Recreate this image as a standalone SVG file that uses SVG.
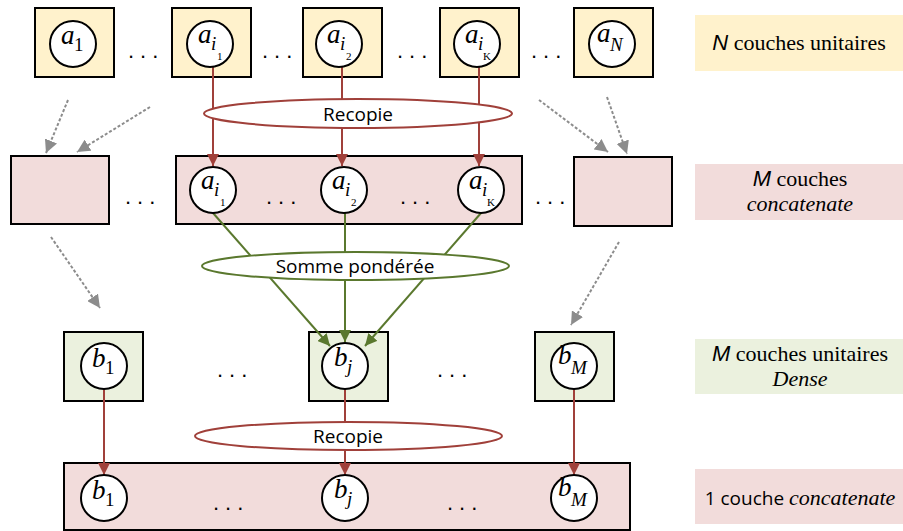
<svg xmlns="http://www.w3.org/2000/svg" width="903" height="531" viewBox="0 0 903 531">
<style>
.box{stroke:#000;stroke-width:2}
.y{fill:#fff2cc}.p{fill:#f2dcdb}.g{fill:#ebf1de}
.c{fill:#fff;stroke:#000;stroke-width:2}
.dots{font-family:'Liberation Sans',sans-serif;font-size:22px;fill:#000;letter-spacing:6px}
.red{stroke:#a0403a;stroke-width:2;fill:none}
.grn{stroke:#5a782e;stroke-width:2;fill:none}
.gry{stroke:#8c8c8c;stroke-width:2;fill:none;stroke-dasharray:3 2}
.lbl{font-family:'Open Sans',sans-serif;font-size:19px;fill:#000;text-anchor:middle}
</style>
<defs>
<marker id="ar" viewBox="0 0 10 10" refX="10" refY="5" markerWidth="12" markerHeight="12" markerUnits="userSpaceOnUse" orient="auto"><path d="M0,0 L10,5 L0,10 z" fill="#a0403a"/></marker>
<marker id="ag" viewBox="0 0 10 10" refX="10" refY="5" markerWidth="12" markerHeight="12" markerUnits="userSpaceOnUse" orient="auto"><path d="M0,0 L10,5 L0,10 z" fill="#5a782e"/></marker>
<marker id="ay" viewBox="0 0 10 10" refX="10" refY="5" markerWidth="13" markerHeight="13" markerUnits="userSpaceOnUse" orient="auto"><path d="M0,0 L10,5 L0,10 z" fill="#8c8c8c"/></marker>
</defs>

<!-- right legend -->
<g id="legend-n" font-family="Liberation Serif, serif" font-size="22" text-anchor="middle">
<rect x="695" y="15" width="208" height="56" class="y"/>
<text x="799" y="50"><tspan font-family="Liberation Sans, sans-serif" font-style="italic">N</tspan> couches unitaires</text>
</g>
<g id="legend-m" font-family="Liberation Serif, serif" font-size="22" text-anchor="middle">
<rect x="695" y="164" width="208" height="56" class="p"/>
<text x="800" y="186"><tspan font-family="Liberation Sans, sans-serif" font-style="italic">M</tspan> couches</text>
<text x="800" y="211" font-style="italic">concatenate</text>
</g>
<g id="legend-dense" font-family="Liberation Serif, serif" font-size="22" text-anchor="middle">
<rect x="695" y="339" width="208" height="55" class="g"/>
<text x="800" y="361"><tspan font-family="Liberation Sans, sans-serif" font-style="italic">M</tspan> couches unitaires</text>
<text x="800" y="386" font-style="italic">Dense</text>
</g>
<g id="legend-concat" font-size="22" text-anchor="middle">
<rect x="695" y="469" width="208" height="55" class="p"/>
<text x="800" y="505"><tspan font-family="Open Sans, sans-serif" font-size="19">1 couche </tspan><tspan font-family="Liberation Serif, serif" font-style="italic">concatenate</tspan></text>
</g>

<!-- top row boxes -->
<g id="top-a1"><rect x="35" y="8" width="79" height="69" class="box y"/></g>
<g id="top-ai1"><rect x="172" y="8" width="79" height="69" class="box y"/></g>
<g id="top-ai2"><rect x="303" y="8" width="79" height="69" class="box y"/></g>
<g id="top-aik"><rect x="440" y="8" width="79" height="69" class="box y"/></g>
<g id="top-aN"><rect x="574" y="8" width="79" height="69" class="box y"/></g>

<!-- middle row boxes -->
<g id="mid-left"><rect x="11" y="156" width="98" height="68" class="box p"/></g>
<g id="mid-main"><rect x="176" y="156" width="346" height="68" class="box p"/></g>
<g id="mid-right"><rect x="574" y="157" width="98" height="69" class="box p"/></g>

<!-- dense boxes -->
<g id="dense-b1"><rect x="64" y="332" width="79" height="69" class="box g"/></g>
<g id="dense-bj"><rect x="309" y="332" width="79" height="69" class="box g"/></g>
<g id="dense-bM"><rect x="535" y="332" width="79" height="69" class="box g"/></g>

<!-- bottom concat box -->
<g id="bottom-concat"><rect x="64" y="463" width="566" height="67" class="box p"/></g>

<!-- dots -->
<g id="dots">
<text x="128" y="58" class="dots">...</text>
<text x="262" y="58" class="dots">...</text>
<text x="397" y="58" class="dots">...</text>
<text x="531" y="58" class="dots">...</text>
<text x="125" y="204" class="dots">...</text>
<text x="266" y="204" class="dots">...</text>
<text x="400" y="204" class="dots">...</text>
<text x="535" y="204" class="dots">...</text>
<text x="217" y="377" class="dots">...</text>
<text x="437" y="377" class="dots">...</text>
<text x="213" y="510" class="dots">...</text>
<text x="447" y="510" class="dots">...</text>
</g>

<!-- connectors -->
<g id="connectors">
<line x1="213" y1="67" x2="213" y2="166" class="red" marker-end="url(#ar)"/>
<line x1="342" y1="67" x2="342" y2="166" class="red" marker-end="url(#ar)"/>
<line x1="479" y1="67" x2="479" y2="166" class="red" marker-end="url(#ar)"/>
<line x1="213" y1="213" x2="330" y2="346" class="grn" marker-end="url(#ag)"/>
<line x1="345" y1="213" x2="345" y2="342" class="grn" marker-end="url(#ag)"/>
<line x1="481" y1="213" x2="365" y2="346" class="grn" marker-end="url(#ag)"/>
<line x1="104" y1="389" x2="104" y2="475" class="red" marker-end="url(#ar)"/>
<line x1="345" y1="389" x2="345" y2="475" class="red" marker-end="url(#ar)"/>
<line x1="574" y1="389" x2="574" y2="475" class="red" marker-end="url(#ar)"/>
<line x1="68" y1="100" x2="46" y2="153" class="gry" marker-end="url(#ay)"/>
<line x1="150" y1="107" x2="77" y2="152" class="gry" marker-end="url(#ay)"/>
<line x1="539" y1="100" x2="608" y2="152" class="gry" marker-end="url(#ay)"/>
<line x1="607" y1="97" x2="627" y2="154" class="gry" marker-end="url(#ay)"/>
<line x1="51" y1="237" x2="100" y2="308" class="gry" marker-end="url(#ay)"/>
<line x1="619" y1="242" x2="571" y2="325" class="gry" marker-end="url(#ay)"/>
</g>

<!-- ellipses -->
<g id="recopie-top">
<ellipse cx="358" cy="113.5" rx="154" ry="14.5" fill="#fff" stroke="#a0403a" stroke-width="2"/>
<text x="358" y="121" class="lbl">Recopie</text>
</g>
<g id="somme">
<ellipse cx="355.5" cy="266" rx="153.5" ry="14" fill="#fff" stroke="#5a782e" stroke-width="2"/>
<text x="355" y="273" class="lbl">Somme pondérée</text>
</g>
<g id="recopie-bottom">
<ellipse cx="348.5" cy="436" rx="153.5" ry="14" fill="#fff" stroke="#a0403a" stroke-width="2"/>
<text x="348" y="443" class="lbl">Recopie</text>
</g>

<!-- circles -->
<g font-family="Liberation Serif, serif" font-style="italic" font-size="27">
<g id="c-a1"><circle cx="73" cy="44" r="23" class="c"/><text x="61" y="44">a</text><text x="74" y="51" font-size="19" font-style="normal">1</text></g>
<g id="c-ai1"><circle cx="210" cy="44" r="23" class="c"/><text x="198" y="43">a</text><text x="211" y="50" font-size="19">i</text><text x="217" y="60" font-size="11" font-style="normal">1</text></g>
<g id="c-ai2"><circle cx="339" cy="44" r="23" class="c"/><text x="327" y="43">a</text><text x="340" y="50" font-size="19">i</text><text x="346" y="60" font-size="11" font-style="normal">2</text></g>
<g id="c-aik"><circle cx="477" cy="44" r="23" class="c"/><text x="465" y="43">a</text><text x="478" y="50" font-size="19">i</text><text x="483" y="60" font-size="11" font-style="normal">K</text></g>
<g id="c-aN"><circle cx="612" cy="44" r="23" class="c"/><text x="597" y="42">a</text><text x="610" y="51" font-size="19">N</text></g>

<g id="m-ai1"><circle cx="213" cy="190" r="23" class="c"/><text x="201" y="189">a</text><text x="214" y="196" font-size="19">i</text><text x="220" y="206" font-size="11" font-style="normal">1</text></g>
<g id="m-ai2"><circle cx="344" cy="190" r="23" class="c"/><text x="332" y="189">a</text><text x="345" y="196" font-size="19">i</text><text x="351" y="206" font-size="11" font-style="normal">2</text></g>
<g id="m-aik"><circle cx="481" cy="190" r="23" class="c"/><text x="469" y="189">a</text><text x="482" y="196" font-size="19">i</text><text x="487" y="206" font-size="11" font-style="normal">K</text></g>

<g id="d-b1"><circle cx="104" cy="366" r="23" class="c"/><text x="92" y="367">b</text><text x="105" y="374" font-size="19" font-style="normal">1</text></g>
<g id="d-bj"><circle cx="345" cy="366" r="23" class="c"/><text x="334" y="366">b</text><text x="347" y="373" font-size="19">j</text></g>
<g id="d-bM"><circle cx="574" cy="366" r="23" class="c"/><text x="558" y="364">b</text><text x="571" y="374" font-size="19">M</text></g>

<g id="b-b1"><circle cx="104" cy="498" r="23" class="c"/><text x="92" y="499">b</text><text x="105" y="506" font-size="19" font-style="normal">1</text></g>
<g id="b-bj"><circle cx="345" cy="498" r="23" class="c"/><text x="334" y="498">b</text><text x="347" y="505" font-size="19">j</text></g>
<g id="b-bM"><circle cx="574" cy="498" r="23" class="c"/><text x="558" y="496">b</text><text x="571" y="506" font-size="19">M</text></g>
</g>
</svg>
